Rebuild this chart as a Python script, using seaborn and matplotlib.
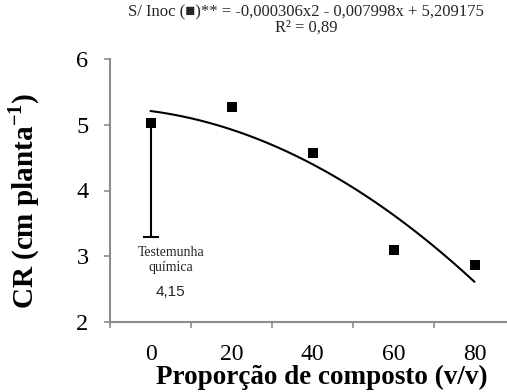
import numpy as np
import pandas as pd
import matplotlib
matplotlib.use("Agg")
import matplotlib.pyplot as plt
import seaborn as sns

# ---- data ----
proporcao = [0, 20, 40, 60, 80]
cr_values = [5.03, 5.27, 4.57, 3.10, 2.87]
tick_labels = ["0", "20", "40", "60", "80"]
errbar_low = 3.30           # lower end of the bar at x = 0
coef_a = -0.000306
coef_b = -0.007998
coef_c = 5.209175
eq_text = "S/ Inoc (■)** = -0,000306x2 - 0,007998x + 5,209175"
r2_text = "R² = 0,89"
control_line1 = "Testemunha"
control_line2 = "química"
control_value = "4,15"

sns.set_theme(style="white")
plt.rcParams["font.family"] = ["Liberation Serif", "DejaVu Sans"]
plt.rcParams["mathtext.fontset"] = "custom"
plt.rcParams["mathtext.rm"] = "Liberation Serif"
plt.rcParams["mathtext.bf"] = "Liberation Serif:bold"

W, H = 507, 392
fig = plt.figure(figsize=(W / 100, H / 100), dpi=100)
left_px, right_px, top_px, bottom_px = 110, 515, 59, 322
ax = fig.add_axes([left_px / W, 1 - bottom_px / H,
                   (right_px - left_px) / W, (bottom_px - top_px) / H])

df = pd.DataFrame({"x": proporcao, "y": cr_values})

# fitted curve
xf = np.linspace(0, 80, 200)
fit = pd.DataFrame({"x": xf, "y": coef_a * xf ** 2 + coef_b * xf + coef_c})
sns.lineplot(data=fit, x="x", y="y", ax=ax, color="black", linewidth=1.5)

# error bar at first point (lower cap only)
eb = ax.errorbar([proporcao[0]], [cr_values[0]],
                 yerr=[[cr_values[0] - errbar_low], [0]],
                 fmt="none", ecolor="black", elinewidth=1.5, capsize=5.5, capthick=1.5)
if len(eb[1]) > 1:
    eb[1][1].set_visible(False)

sns.scatterplot(data=df, x="x", y="y", ax=ax, marker="s", s=58,
                color="black", edgecolor="black", linewidth=0, zorder=5)

ax.set_xlim(-10, 90)
ax.set_ylim(2, 6)
ax.set_yticks([2, 3, 4, 5, 6])
ax.set_yticklabels(["2", "3", "4", "5", "6"])
ax.set_xticks([-10, 10, 30, 50, 70, 90])
ax.set_xticklabels([""] * 6)
ax.set_xticks(proporcao, minor=True)
ax.set_xticklabels(tick_labels, minor=True)

gray = "#8c8c8c"
for s in ["top", "right"]:
    ax.spines[s].set_visible(False)
for s in ["left", "bottom"]:
    ax.spines[s].set_color(gray)
    ax.spines[s].set_linewidth(1.5)

ax.tick_params(axis="y", which="major", direction="out", length=4.5, width=1.2,
               color=gray, labelsize=17.5, pad=11, left=True, labelcolor="black")
ax.tick_params(axis="x", which="major", direction="out", length=4.5, width=1.2,
               color=gray, bottom=True)
ax.tick_params(axis="x", which="minor", length=0, labelsize=17, pad=15.5,
               labelcolor="black", bottom=True)

ax.set_xlabel("Proporção de composto (v/v)", fontsize=19.5, fontweight="bold",
              color="black", va="center")
ax.xaxis.set_label_coords((322 - left_px) / (right_px - left_px),
                          -(377.5 - bottom_px) / (bottom_px - top_px))
ax.set_ylabel(r"CR (cm planta$^{\mathbf{-1}}$)", fontsize=21, fontweight="bold",
              color="black", va="center")
ax.yaxis.set_label_coords(-(110 - 24) / (right_px - left_px),
                          (bottom_px - 201) / (bottom_px - top_px))

fig.text(306 / W, 1 - 12 / H, eq_text, ha="center", va="center", fontsize=12,
         family=["Liberation Serif", "DejaVu Sans"])
fig.text(306 / W, 1 - 28 / H, r2_text, ha="center", va="center", fontsize=12)

ax.text(proporcao[0] + 5, 3.06, control_line1, ha="center", va="center", fontsize=10)
ax.text(proporcao[0] + 5, 2.83, control_line2, ha="center", va="center", fontsize=10)
ax.text(proporcao[0] + 5, 2.46, control_value, ha="center", va="center",
        fontsize=11, family="Liberation Sans")

fig.savefig("out.png", dpi=100)
